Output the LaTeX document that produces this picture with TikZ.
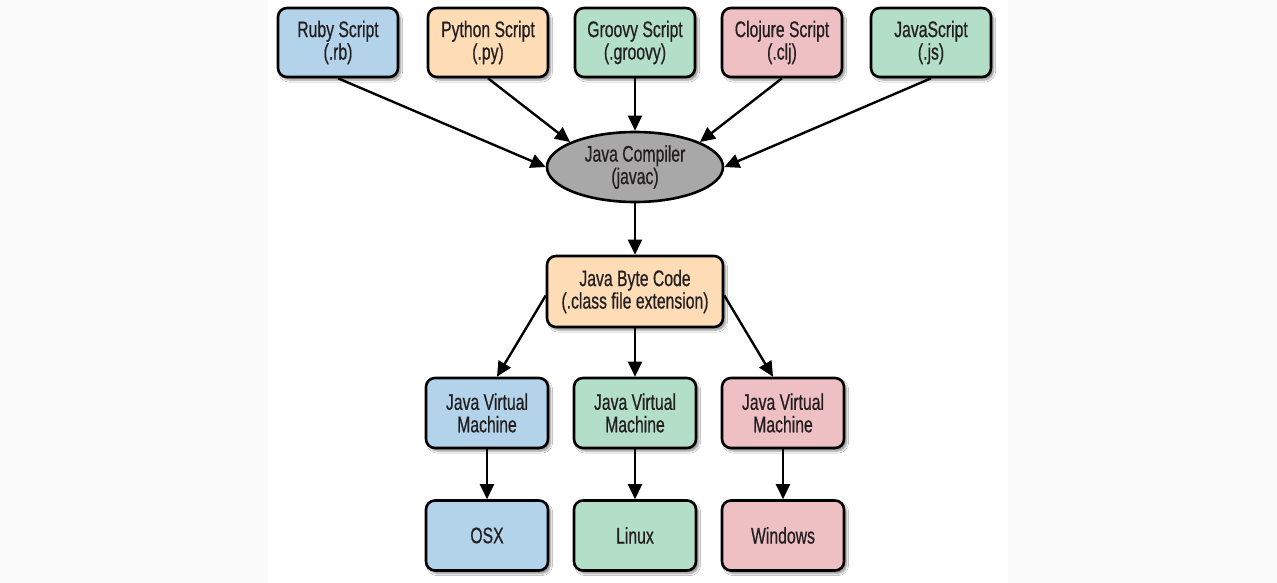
\documentclass[tikz,border=0pt]{standalone}
\usepackage{fontspec}
\setmainfont{Liberation Sans}[FakeStretch=0.70,FakeBold=0.6]
\usetikzlibrary{arrows.meta,shapes.geometric,shadows.blur,calc}
\definecolor{cblue}{HTML}{B3D3EA}
\definecolor{cpeach}{HTML}{FDDCB6}
\definecolor{cgreen}{HTML}{B3DFC8}
\definecolor{cpink}{HTML}{EFC0C3}
\definecolor{cgray}{HTML}{A8A8A8}
\definecolor{ctext}{HTML}{231F20}
\definecolor{margin}{HTML}{FBFBFB}
\tikzset{
  box/.style={draw=black, line width=2.6pt, rounded corners=9pt, align=center,
    inner sep=0pt, text=ctext,
    font=\fontsize{22.5}{22.5}\selectfont,
    blur shadow={shadow xshift=2.5pt, shadow yshift=-3pt, shadow opacity=45, shadow blur steps=6}},
  topbox/.style={box, minimum width=120pt, minimum height=69pt},
  vmbox/.style={box, minimum width=122pt, minimum height=70pt},
  oval/.style={draw=black, line width=2.6pt, ellipse, fill=cgray, align=center,
    inner sep=0pt, minimum width=176pt, minimum height=70pt, text=ctext,
    font=\fontsize{22.5}{22.5}\selectfont},
  arr/.style={line width=2.4pt, -{Triangle[length=15pt,width=14pt]}}
}
\begin{document}
\begin{tikzpicture}[x=1pt,y=-1pt]
\fill[margin] (0,0) rectangle (1277,583);
\fill[white] (268,0) rectangle (1008,583);
\useasboundingbox (0,0) rectangle (1277,583);

\node[topbox, fill=cblue]  (rb) at (338,42.5) {Ruby Script\\(.rb)};
\node[topbox, fill=cpeach] (py) at (488,42.5) {Python Script\\(.py)};
\node[topbox, fill=cgreen] (gr) at (635,42.5) {Groovy Script\\(.groovy)};
\node[topbox, fill=cpink]  (cl) at (782,42.5) {Clojure Script\\(.clj)};
\node[topbox, fill=cgreen] (js) at (931,42.5) {JavaScript\\(.js)};

\node[oval] (jc) at (635,167) {Java Compiler\\(javac)};

\node[box, fill=cpeach, minimum width=176pt, minimum height=71pt] (bc) at (635,291.5) {Java Byte Code\\(.class file extension)};

\node[vmbox, fill=cblue]  (v1) at (487,413) {Java Virtual\\Machine};
\node[vmbox, fill=cgreen] (v2) at (635,413) {Java Virtual\\Machine};
\node[vmbox, fill=cpink]  (v3) at (783,413) {Java Virtual\\Machine};

\node[vmbox, fill=cblue]  (os) at (487,535.5) {OSX};
\node[vmbox, fill=cgreen] (lx) at (635,535.5) {Linux};
\node[vmbox, fill=cpink]  (wn) at (783,535.5) {Windows};

\draw[arr] (rb.south) -- (jc.west);
\draw[arr] (py.south) -- (jc.159);
\draw[arr] (gr.south) -- (jc.north);
\draw[arr] (cl.south) -- (jc.21);
\draw[arr] (js.south) -- (jc.east);

\draw[arr] (jc.south) -- (bc.north);

\draw[arr] ($(bc.west)+(0,4)$) -- ($(v1.north)+(10,0)$);
\draw[arr] (bc.south) -- (v2.north);
\draw[arr] ($(bc.east)+(0,4)$) -- ($(v3.north)+(-10,0)$);

\draw[arr] (v1.south) -- (os.north);
\draw[arr] (v2.south) -- (lx.north);
\draw[arr] (v3.south) -- (wn.north);
\end{tikzpicture}
\end{document}
